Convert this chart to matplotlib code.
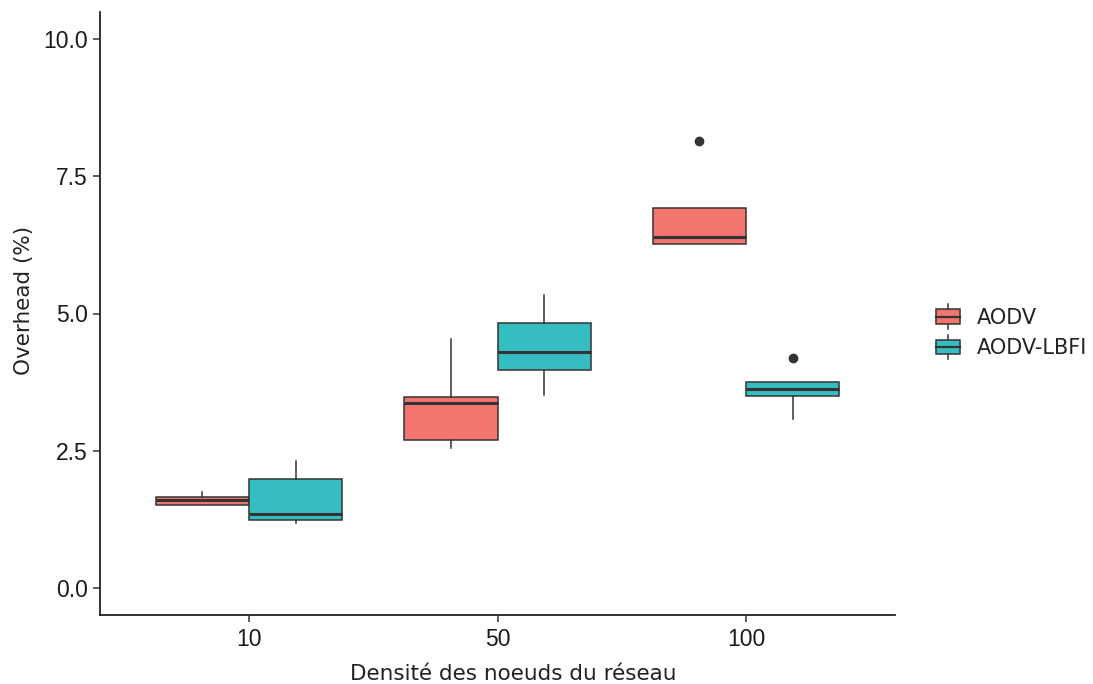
import matplotlib
matplotlib.use("Agg")
import matplotlib.pyplot as plt
from matplotlib.legend_handler import HandlerBase
from matplotlib.patches import Rectangle
from matplotlib.lines import Line2D

# ---- data ----
categories = ["10", "50", "100"]
series = ["AODV", "AODV-LBFI"]

aodv_q1 = [1.50, 2.69, 6.27]
aodv_med = [1.60, 3.36, 6.39]
aodv_q3 = [1.65, 3.47, 6.93]
aodv_lo = [1.50, 2.55, 6.27]
aodv_hi = [1.74, 4.53, 6.93]
aodv_out = [[], [], [8.14]]

lbfi_q1 = [1.24, 3.97, 3.49]
lbfi_med = [1.35, 4.30, 3.62]
lbfi_q3 = [1.99, 4.82, 3.75]
lbfi_lo = [1.17, 3.51, 3.07]
lbfi_hi = [2.31, 5.34, 3.75]
lbfi_out = [[], [], [4.19]]

yticks = [0, 2.5, 5.0, 7.5, 10.0]
ytick_labels = ["0.0", "2.5", "5.0", "7.5", "10.0"]

colors = ["#F3756F", "#36BDC2"]
edge = "#333333"

plt.rcParams["font.family"] = ["Liberation Sans", "DejaVu Sans"]

fig = plt.figure(figsize=(10.93, 6.84), dpi=100)
ax = fig.add_axes([100/1093, (684-615)/684, (895-100)/1093, (615-12)/684])

def make_stats(q1, med, q3, lo, hi, out):
    return [dict(q1=a, med=b, q3=c, whislo=d, whishi=e, fliers=f)
            for a, b, c, d, e, f in zip(q1, med, q3, lo, hi, out)]

groups = [
    make_stats(aodv_q1, aodv_med, aodv_q3, aodv_lo, aodv_hi, aodv_out),
    make_stats(lbfi_q1, lbfi_med, lbfi_q3, lbfi_lo, lbfi_hi, lbfi_out),
]
offsets = [-0.1875, 0.1875]
for stats, off, col in zip(groups, offsets, colors):
    pos = [i + 1 + off for i in range(len(categories))]
    ax.bxp(stats, positions=pos, widths=0.375, patch_artist=True,
           showcaps=False, manage_ticks=False,
           boxprops=dict(facecolor=col, edgecolor=edge, linewidth=1.1),
           medianprops=dict(color=edge, linewidth=2.2, solid_capstyle="butt"),
           whiskerprops=dict(color=edge, linewidth=1.1),
           flierprops=dict(marker="o", markerfacecolor=edge, markeredgecolor=edge,
                           markersize=6))

ax.set_xlim(0.4, 3.6)
ax.set_ylim(-0.5, 10.5)
ax.set_xticks([1, 2, 3])
ax.set_xticklabels(categories)
ax.set_yticks(yticks)
ax.set_yticklabels(ytick_labels)
ax.tick_params(axis="both", length=5, width=1.1, color="#333333", pad=4,
               labelsize=16.5, labelcolor="#1a1a1a")
for s in ["top", "right"]:
    ax.spines[s].set_visible(False)
for s in ["left", "bottom"]:
    ax.spines[s].set_linewidth(1.3)
    ax.spines[s].set_color("#222222")

title_font = ["DejaVu Sans"]
ax.set_xlabel("Densité des noeuds du réseau", fontfamily=title_font,
              fontsize=15.5, color="#222222")
ax.set_ylabel("Overhead (%)", fontfamily=title_font, fontsize=15.5,
              color="#222222")
ax.xaxis.set_label_coords((513 - 100) / 795, -(684 - 615) / 603)
ax.xaxis.label.set_va("bottom")
ax.yaxis.set_label_coords(-(100 - 14) / 795, (615 - 300) / 603)
ax.yaxis.label.set_va("top")


class BoxHandler(HandlerBase):
    def create_artists(self, legend, orig_handle, xdescent, ydescent,
                       width, height, fontsize, trans):
        col = orig_handle.get_facecolor()
        bw = width * 0.9
        x0 = -xdescent + (width - bw) / 2
        bh = height * 0.9
        y0 = -ydescent + (height - bh) / 2
        r = Rectangle((x0, y0), bw, bh, facecolor=col, edgecolor=edge,
                      linewidth=1.1, transform=trans)
        xc = x0 + bw / 2
        med = Line2D([x0, x0 + bw], [y0 + bh / 2] * 2, color=edge, linewidth=1.6,
                     transform=trans)
        w1 = Line2D([xc, xc], [y0 + bh, y0 + bh + height * 0.3], color=edge,
                    linewidth=1.1, transform=trans)
        w2 = Line2D([xc, xc], [y0, y0 - height * 0.3], color=edge,
                    linewidth=1.1, transform=trans)
        return [w1, w2, r, med]


handles = [Rectangle((0, 0), 1, 1, facecolor=c) for c in colors]
leg = fig.legend(handles, series, handler_map={Rectangle: BoxHandler()},
                 loc="center left", bbox_to_anchor=(920/1093, 1 - 333/684),
                 frameon=False, handlelength=1.3, handleheight=0.85,
                 handletextpad=0.75, labelspacing=0.5, borderpad=0.2,
                 prop=dict(family=title_font, size=15))
for t in leg.get_texts():
    t.set_color("#222222")

fig.savefig("out.png", dpi=100)
